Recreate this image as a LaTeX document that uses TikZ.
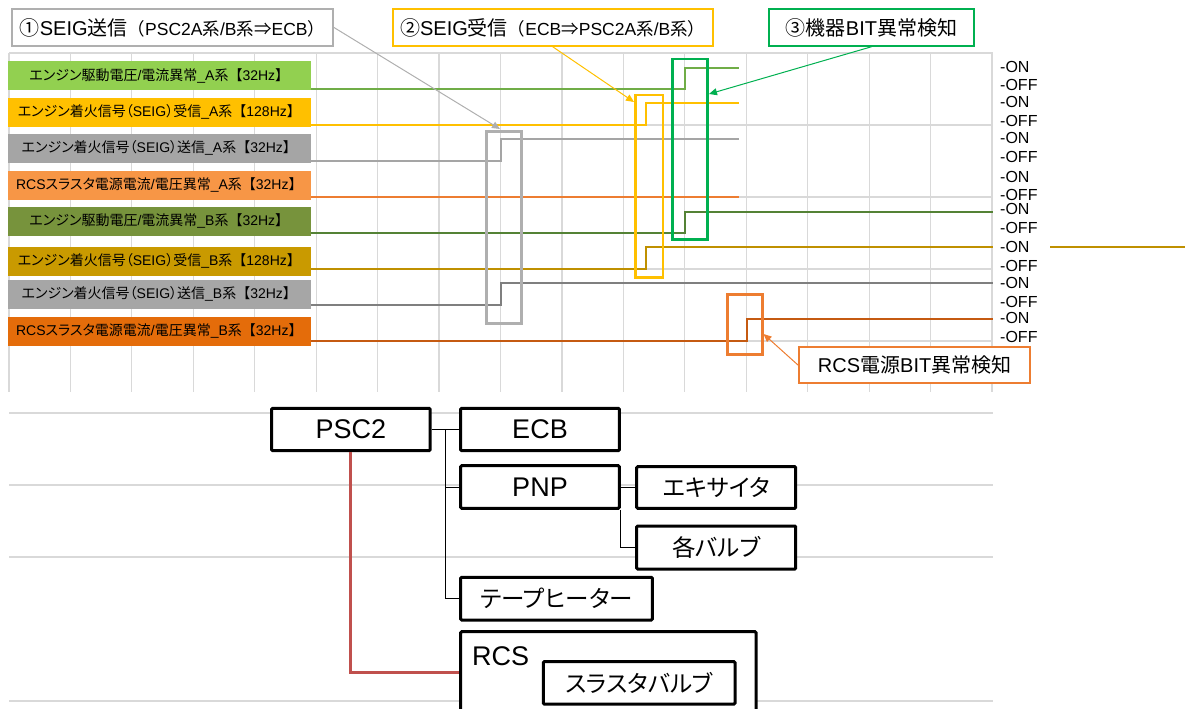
\documentclass[tikz,border=0pt]{standalone}
\usepackage{fontspec}
\setmainfont{Liberation Sans}
\newfontfamily\jpf[RawFeature=+palt]{Noto Sans CJK JP}
\newfontfamily\jpw{Noto Sans CJK JP}
\newcommand\J[1]{{\jpf #1}}
\newcommand\JW[1]{{\jpw #1}}
\usetikzlibrary{arrows.meta}
\definecolor{gridc}{HTML}{D9D9D9}
\definecolor{bxa}{HTML}{92D050}
\definecolor{bxb}{HTML}{FFC000}
\definecolor{bxc}{HTML}{A5A5A5}
\definecolor{bxd}{HTML}{F79646}
\definecolor{bxe}{HTML}{77933C}
\definecolor{bxf}{HTML}{C99A00}
\definecolor{bxg}{HTML}{A6A6A6}
\definecolor{bxh}{HTML}{E46C0A}
\definecolor{tra}{HTML}{70AD47}
\definecolor{trb}{HTML}{FFC000}
\definecolor{trc}{HTML}{A5A5A5}
\definecolor{trd}{HTML}{ED7D31}
\definecolor{tre}{HTML}{548235}
\definecolor{trf}{HTML}{BF9000}
\definecolor{trg}{HTML}{7F7F7F}
\definecolor{trh}{HTML}{C55A11}
\definecolor{hgray}{HTML}{AFAFAF}
\definecolor{hyel}{HTML}{FFC000}
\definecolor{hgrn}{HTML}{00B050}
\definecolor{horg}{HTML}{ED7D31}
\definecolor{redc}{HTML}{C0504D}
\begin{document}
\begin{tikzpicture}[x=1pt,y=-1pt,
  gline/.style={draw=gridc, line width=1.2pt},
  lab/.style={minimum width=302.7pt, minimum height=29pt, inner sep=0pt, font=\fontsize{14}{16}\selectfont, text=black},
  trace/.style={line width=2pt},
  hlrect/.style={line width=2.5pt},
  callout/.style={draw, fill=white, line width=2pt, inner sep=0pt, minimum height=36.5pt},
  onoff/.style={anchor=west, inner sep=0pt, font=\fontsize{16}{18}\selectfont},
  tbox/.style={draw=black, line width=3pt, fill=white, inner sep=0pt, rounded corners=1pt, font=\fontsize{27}{30}\selectfont},
  tjp/.style={font=\fontsize{23.5}{28}\selectfont},
  conn/.style={draw=black, line width=1pt},
  arr/.style={-{Triangle[length=8pt,width=7pt]}, line width=1pt}
]
\useasboundingbox (0,0) rectangle (1192,709);
\begin{scope}
\clip (0,0) rectangle (1192,709);
% grid
\foreach \i in {0,...,16} \draw[gline] ({9+61.44*\i},53) -- ({9+61.44*\i},392);
\foreach \y in {53,125,197,269,341} \draw[gline] (9,\y) -- (993,\y);
\foreach \y in {413,485,557,701} \draw[gline] (9,\y) -- (993,\y);
% traces
\draw[trace, tra] (310.7,89) -- (685,89) -- (685,67.7) -- (739,67.7);
\draw[trace, trb] (310.7,125) -- (645.7,125) -- (645.7,103) -- (739,103);
\draw[trace, trc] (310.7,160.7) -- (500.7,160.7) -- (500.7,139) -- (739,139);
\draw[trace, trd] (310.7,196.7) -- (739,196.7);
\draw[trace, tre] (310.7,232.7) -- (685,232.7) -- (685,211.7) -- (993,211.7);
\draw[trace, trf] (310.7,269) -- (645.7,269) -- (645.7,247.3) -- (993,247.3);
\draw[trace, trf] (1050,247.3) -- (1185,247.3);
\draw[trace, trg] (310.7,305) -- (500.7,305) -- (500.7,283.3) -- (993,283.3);
\draw[trace, trh] (310.7,340.7) -- (746.7,340.7) -- (746.7,319.3) -- (993,319.3);
% row labels
\node[lab, fill=bxa] (l1) at (159.35,75.5) {\J{エンジン駆動電圧}/\J{電流異常}\_A\J{系}\JW{【}32Hz\JW{】}};
\node[lab, fill=bxb] (l2) at (159.35,112.2) {\J{エンジン着火信号（}SEIG\J{）受信}\_A\J{系}\JW{【}128Hz\JW{】}};
\node[lab, fill=bxc] (l3) at (159.35,148.35) {\J{エンジン着火信号（}SEIG\J{）送信}\_A\J{系}\JW{【}32Hz\JW{】}};
\node[lab, fill=bxd] (l4) at (159.35,185.15) {RCS\J{スラスタ電源電流}/\J{電圧異常}\_A\J{系}\JW{【}32Hz\JW{】}};
\node[lab, fill=bxe] (l5) at (159.35,221.2) {\J{エンジン駆動電圧}/\J{電流異常}\_B\J{系}\JW{【}32Hz\JW{】}};
\node[lab, fill=bxf] (l6) at (159.35,261.2) {\J{エンジン着火信号（}SEIG\J{）受信}\_B\J{系}\JW{【}128Hz\JW{】}};
\node[lab, fill=bxg] (l7) at (159.35,294.15) {\J{エンジン着火信号（}SEIG\J{）送信}\_B\J{系}\JW{【}32Hz\JW{】}};
\node[lab, fill=bxh] (l8) at (159.35,331.2) {RCS\J{スラスタ電源電流}/\J{電圧異常}\_B\J{系}\JW{【}32Hz\JW{】}};
% highlight rectangles
\draw[hlrect, hgray] (486.7,131.7) rectangle (521.7,323.3);
\draw[hlrect, hyel] (635.7,95) rectangle (663,277.3);
\draw[hlrect, hgrn] (672.7,59) rectangle (707.7,239.3);
\draw[hlrect, horg] (727.3,294.3) rectangle (762.3,354.3);
% callouts
\node[callout, draw=hgray, minimum width=321pt] (c1) at (172.5,27.5)
  {{\fontsize{20}{24}\selectfont\JW{①}SEIG\J{送信}}{\fontsize{17.5}{20}\selectfont\JW{（}PSC2A\J{系}/B\J{系}\JW{⇒}ECB\JW{）}}};
\node[callout, draw=hyel, minimum width=320pt] (c2) at (552.7,27.5)
  {{\fontsize{20}{24}\selectfont\JW{②}SEIG\J{受信}}{\fontsize{17.5}{20}\selectfont\JW{（}ECB\JW{⇒}PSC2A\J{系}/B\J{系}\JW{）}}};
\node[callout, draw=hgrn, minimum width=205pt] (c3) at (871.5,27.5)
  {\fontsize{20}{24}\selectfont\J{③機器}BIT\J{異常検知}};
\node[callout, draw=horg, minimum width=230.7pt, minimum height=36pt] (c4) at (914.65,365.3)
  {\fontsize{20}{24}\selectfont RCS\J{電源}BIT\J{異常検知}};
\coordinate (a1) at (500,129);
\coordinate (a2) at (634,102);
\coordinate (a3) at (709,94);
\coordinate (a4) at (763.5,334);
\draw[arr, hgray] (c1.east) -- (a1);
\draw[arr, hyel] (c2.south) -- (a2);
\draw[arr, hgrn] (c3.south) -- (a3);
\draw[arr, horg] (c4.west) -- (a4);
% on/off labels
\node[onoff] (o1) at (1000,66.7) {-ON};
\node[onoff] (f1) at (1000,85) {-OFF};
\node[onoff] (o2) at (1000,101.7) {-ON};
\node[onoff] (f2) at (1000,120.7) {-OFF};
\node[onoff] (o3) at (1000,138) {-ON};
\node[onoff] (f3) at (1000,157.3) {-OFF};
\node[onoff] (o4) at (1000,177.3) {-ON};
\node[onoff] (f4) at (1000,195) {-OFF};
\node[onoff] (o5) at (1000,209) {-ON};
\node[onoff] (f5) at (1000,228) {-OFF};
\node[onoff] (o6) at (1000,247) {-ON};
\node[onoff] (f6) at (1000,266) {-OFF};
\node[onoff] (o7) at (1000,283) {-ON};
\node[onoff] (f7) at (1000,301.7) {-OFF};
\node[onoff] (o8) at (1000,317.7) {-ON};
\node[onoff] (f8) at (1000,336.7) {-OFF};
% tree boxes
\node[tbox, minimum width=158.3pt, minimum height=42.4pt] (psc) at (350.85,429.5) {PSC2};
\node[tbox, minimum width=158.6pt, minimum height=42.4pt] (ecb) at (540,429.5) {ECB};
\node[tbox, minimum width=158.6pt, minimum height=42.6pt] (pnp) at (540,487) {PNP};
\node[tbox, tjp, minimum width=159pt, minimum height=41.6pt] (exc) at (716.2,487.5) {\J{エキサイタ}};
\node[tbox, tjp, minimum width=159pt, minimum height=43pt] (kaku) at (716.2,547.5) {\J{各バルブ}};
\node[tbox, tjp, minimum width=191.6pt, minimum height=42.7pt] (tape) at (556.5,598.65) {\J{テープヒーター}};
\node[tbox, minimum width=295.3pt, minimum height=82pt] (rcs) at (608.35,672.7) {};
\node[anchor=west, inner sep=0pt, font=\fontsize{27}{30}\selectfont] (rcst) at (472,656) {RCS};
\node[tbox, tjp, minimum width=191.7pt, minimum height=42.3pt] (thr) at (639.15,682.85) {\J{スラスタバルブ}};
% tree connectors
\coordinate (tr) at (psc.east -| 445.7,0);
\draw[conn] (psc.east) -- (ecb.west);
\draw[conn] (tr) |- (pnp.west);
\draw[conn] (tr) |- (tape.west);
\draw[conn] (pnp.east) -- (pnp.east -| exc.west);
\draw[conn] (pnp.south east) |- (kaku.west);
\draw[draw=redc, line width=3pt] (psc.south) |- (rcs.west);
\end{scope}
\end{tikzpicture}
\end{document}
